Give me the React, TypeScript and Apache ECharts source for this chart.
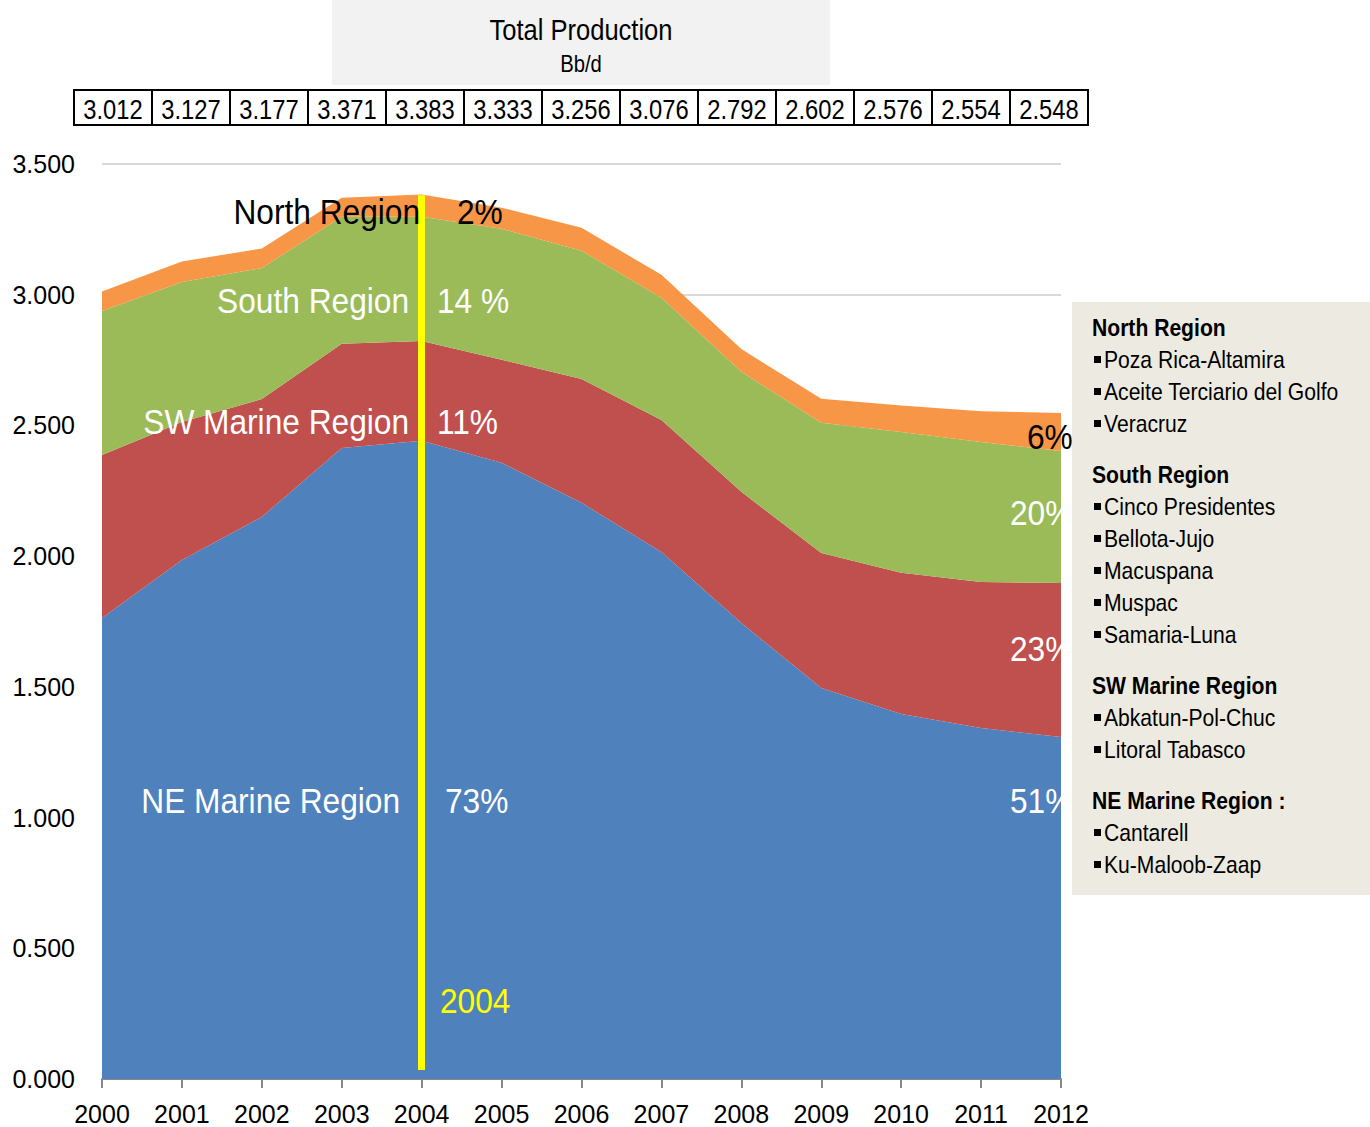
import React, { useEffect, useRef } from "react";
import * as echarts from "echarts";

const years = ["2000", "2001", "2002", "2003", "2004", "2005", "2006", "2007", "2008", "2009", "2010", "2011", "2012"];
const neMarine = [1.763, 1.985, 2.150, 2.414, 2.441, 2.357, 2.204, 2.016, 1.744, 1.496, 1.396, 1.343, 1.308];
const swMarine = [0.624, 0.528, 0.451, 0.398, 0.382, 0.394, 0.474, 0.505, 0.502, 0.516, 0.540, 0.558, 0.589];
const south = [0.551, 0.536, 0.501, 0.486, 0.475, 0.501, 0.490, 0.467, 0.459, 0.498, 0.539, 0.536, 0.505];
const north = [0.074, 0.078, 0.075, 0.073, 0.085, 0.081, 0.088, 0.088, 0.087, 0.092, 0.101, 0.117, 0.146];
const totals = ["3.012", "3.127", "3.177", "3.371", "3.383", "3.333", "3.256", "3.076", "2.792", "2.602", "2.576", "2.554", "2.548"];

const legendBlocks = [
  { head: "North Region", items: ["Poza Rica-Altamira", "Aceite Terciario del Golfo", "Veracruz"] },
  { head: "South Region", items: ["Cinco Presidentes", "Bellota-Jujo", "Macuspana", "Muspac", "Samaria-Luna"] },
  { head: "SW Marine Region", items: ["Abkatun-Pol-Chuc", "Litoral Tabasco"] },
  { head: "NE Marine Region :", items: ["Cantarell", "Ku-Maloob-Zaap"] },
];

const FONT = "'Liberation Sans', Arial, sans-serif";
const SX = 0.88;

export default function App() {
  const ref = useRef<HTMLDivElement>(null);
  useEffect(() => {
    if (!ref.current) return;
    const chart = echarts.init(ref.current, null, { renderer: "svg" });

    const graphics: any[] = [];
    const txt = (text: string, x: number, y: number, font: string, fill: string, align: string, z: number) => {
      graphics.push({ type: "text", x, y, scaleX: SX, style: { text, font, fill, align, verticalAlign: "middle" }, z });
    };
    // header
    graphics.push({ type: "rect", shape: { x: 332, y: 0, width: 498, height: 85 }, style: { fill: "#F2F2F2" }, z: 10 });
    txt("Total Production", 581, 30, `29px ${FONT}`, "#000", "center", 11);
    txt("Bb/d", 581, 64, `23px ${FONT}`, "#000", "center", 11);
    const cellW = 78;
    totals.forEach((t, i) => {
      const x = 74 + i * cellW;
      graphics.push({ type: "rect", shape: { x, y: 90, width: cellW, height: 35 }, style: { fill: "#fff", stroke: "#000", lineWidth: 2 }, z: 10 });
      txt(t, x + cellW / 2, 109, `27px ${FONT}`, "#000", "center", 11);
    });

    // in-chart labels
    const lab = (text: string, x: number, y: number, fill: string, align: string = "left") => {
      txt(text, x, y, `36px ${FONT}`, fill, align, 20);
    };
    lab("North Region", 420, 211, "#000", "right");
    lab("2%", 457, 211, "#000");
    lab("South Region", 409, 300, "#fff", "right");
    lab("14 %", 437, 300, "#fff");
    lab("SW Marine Region", 409, 421, "#fff", "right");
    lab("11%", 437, 421, "#fff");
    lab("NE Marine Region", 400, 800, "#fff", "right");
    lab("73%", 445, 800, "#fff");
    lab("2004", 440, 1000, "#FFFF00");
    lab("6%", 1027, 436, "#000");
    lab("20%", 1010, 512, "#fff");
    lab("23%", 1010, 648, "#fff");
    lab("51%", 1010, 800, "#fff");

    // legend box
    graphics.push({ type: "rect", shape: { x: 1072, y: 302, width: 298, height: 593 }, style: { fill: "#EDEBE1" }, z: 30 });
    let y = 328;
    legendBlocks.forEach((b) => {
      txt(b.head, 1092, y, `bold 24px ${FONT}`, "#000", "left", 31);
      y += 32;
      b.items.forEach((it) => {
        graphics.push({ type: "rect", shape: { x: 1094, y: y - 4, width: 7, height: 7 }, style: { fill: "#000" }, z: 31 });
        txt(it, 1104, y, `24px ${FONT}`, "#000", "left", 31);
        y += 32;
      });
      y += 19;
    });

    const mk = (name: string, data: number[], color: string) => ({
      name,
      type: "line",
      stack: "total",
      data,
      symbol: "none",
      lineStyle: { width: 0 },
      areaStyle: { color, opacity: 1 },
      itemStyle: { color },
    });

    const ne: any = mk("NE Marine Region", neMarine, "#4F81BD");
    const sw = mk("SW Marine Region", swMarine, "#C0504D");
    const so = mk("South Region", south, "#9BBB59");
    const no: any = mk("North Region", north, "#F79646");
    no.markLine = {
      silent: true,
      symbol: "none",
      label: { show: false },
      lineStyle: { color: "#FFFF00", width: 7, type: "solid" },
      data: [[{ coord: ["2004", 3.38] }, { coord: ["2004", 0.034] }]],
      z: 15,
    };

    chart.setOption({
      animation: false,
      backgroundColor: "#fff",
      grid: { left: 102, right: 309, top: 164, bottom: 48, containLabel: false },
      xAxis: {
        type: "category",
        data: years,
        boundaryGap: false,
        axisLine: { lineStyle: { color: "#888", width: 2 } },
        axisTick: { show: true, length: 9, interval: 0, lineStyle: { color: "#888", width: 2 } },
        axisLabel: { color: "#000", fontSize: 25, fontFamily: FONT, margin: 22, interval: 0 },
        splitLine: { show: false },
      },
      yAxis: {
        type: "value",
        min: 0,
        max: 3.5,
        interval: 0.5,
        axisLine: { show: false },
        axisTick: { show: false },
        axisLabel: { color: "#000", fontSize: 25, fontFamily: FONT, margin: 27, formatter: (v: number) => v.toFixed(3) },
        splitLine: { lineStyle: { color: "#D9D9D9", width: 2 } },
      },
      series: [ne, sw, so, no],
      graphic: graphics,
    });
    return () => chart.dispose();
  }, []);
  return <div ref={ref} style={{ position: "absolute", left: 0, top: 0, width: 1370, height: 1127 }} />;
}
